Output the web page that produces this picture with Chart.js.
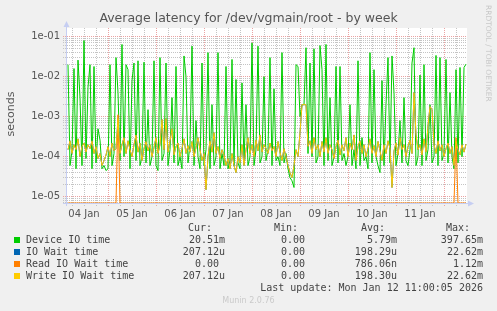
<!DOCTYPE html>
<html>
<head>
<meta charset="utf-8">
<script src="https://cdn.jsdelivr.net/npm/chart.js@4"></script>
<style>
  body { margin: 0; background: #f0f0f0; }
  #wrap { position: relative; width: 497px; height: 311px; background: #f0f0f0; overflow: hidden; }
  #stage { position: absolute; left: 0; top: 0; }
  .mono { position: absolute; white-space: pre; font-family: 'DejaVu Sans Mono', monospace; font-size: 10px; line-height: 12px; color: #444; }
  .sans { position: absolute; white-space: pre; font-family: 'DejaVu Sans', sans-serif; }
  .box { position: absolute; width: 6px; height: 6px; }
</style>
</head>
<body>
<div id="wrap">
  <canvas id="stage" width="497" height="311"></canvas>
</div>
<script>
// one point per hour, starting Jan 4 04:00
const dayLabels = ['04 Jan', '05 Jan', '06 Jan', '07 Jan', '08 Jan', '09 Jan', '10 Jan', '11 Jan'];
const yDecades = [1e-5, 1e-4, 1e-3, 1e-2, 1e-1];
const yTickLabels = ['1e-05', '1e-04', '1e-03', '1e-02', '1e-01'];

const deviceIO = [
  2e-2, 6e-5, 1.4e-4, 1.6e-2, 5e-5, 2.6e-2, 3e-3, 6e-5, 8e-2, 9e-5,
  5.5e-3, 2e-2, 5e-5, 1.8e-2, 7e-5, 5e-4, 2.6e-4, 5e-5, 6e-5, 4.5e-5,
  5e-5, 2e-2, 6e-5, 1.2e-4, 3e-2, 4e-3, 8e-5, 6.4e-2, 1e-4, 2e-2,
  1.5e-2, 5e-5, 8e-3, 2.2e-2, 8e-5, 2.5e-2, 6e-5, 1e-4, 2.3e-2, 7e-5,
  1.5e-3, 6e-5, 1e-4, 2.5e-2, 6e-5, 4.5e-5, 3e-2, 8e-5, 1.2e-4, 2.2e-2,
  6e-5, 1.5e-4, 3e-3, 7e-5, 1.8e-2, 6e-5, 1e-4, 5e-5, 3.3e-2, 1e-2,
  7e-5, 2e-4, 5.8e-2, 6e-5, 8e-4, 1e-4, 5e-5, 2.2e-2, 6e-5, 1.5e-4,
  4e-2, 5e-5, 2e-3, 6e-5, 1e-4, 4e-2, 5e-5, 1.2e-4, 6e-5, 1.8e-2,
  5e-5, 8e-5, 2.7e-2, 6e-5, 8.5e-3, 7e-5, 5e-5, 7e-3, 8e-5, 2e-3,
  6e-5, 1e-4, 7e-2, 6e-5, 1.5e-4, 5.8e-2, 7e-5, 1e-4, 1e-2, 8e-5,
  1.5e-4, 3e-2, 6e-5, 5e-3, 8e-5, 1e-4, 6e-5, 4e-2, 7e-5, 1.2e-4,
  5e-5, 3e-5, 2.5e-5, 1.7e-5, 2e-2, 1.8e-2, 1e-3, 2e-3, 2e-3, 5.3e-2,
  1.2e-4, 2.2e-2, 1e-4, 5e-2, 7e-5, 1e-4, 6e-2, 1.5e-2, 6e-5, 6.4e-2,
  8e-5, 3e-3, 6e-5, 1e-4, 1.8e-2, 7e-5, 1.8e-2, 8e-5, 1.2e-4, 6e-5,
  1e-4, 2e-3, 6e-5, 1.5e-4, 5e-5, 2.5e-2, 6e-5, 3e-4, 8e-5, 1e-4,
  5e-5, 4e-2, 7e-5, 1.5e-2, 1e-4, 6e-5, 4e-5, 8e-3, 6e-5, 2e-3,
  3e-2, 7e-5, 3.3e-2, 4e-3, 6e-5, 1.2e-4, 8e-4, 7e-5, 3e-3, 8e-5,
  6e-5, 1.5e-4, 2.2e-2, 5.3e-2, 6e-5, 1e-4, 1.1e-2, 6e-5, 2e-2, 8e-5,
  1.5e-4, 2e-3, 7e-5, 1e-4, 3.4e-2, 6e-5, 3e-2, 8e-5, 1.2e-4, 2.7e-2,
  7e-5, 4e-3, 1e-4, 5e-5, 1.5e-2, 7e-5, 1.7e-2, 1e-4, 1.7e-2, 2.05e-2
];

const ioWait = [
  1.5e-4, 2.5e-4, 1.2e-4, 2e-4, 1.5e-4, 2.8e-4, 1e-4, 1.8e-4, 2.2e-4, 1.3e-4,
  2e-4, 1.6e-4, 2.5e-4, 1.2e-4, 1.8e-4, 9e-5, 1.2e-4, 6e-5, 8e-5, 1.1e-4,
  1.8e-4, 1e-4, 2.2e-4, 1.4e-4, 1.6e-4, 9e-4, 1.2e-4, 2e-4, 3e-4, 1.2e-4,
  2.5e-4, 1.5e-4, 1e-4, 2e-4, 3.5e-4, 1.3e-4, 2.2e-4, 8e-5, 1.6e-4, 2.4e-4,
  1.4e-4, 2e-4, 1e-4, 1.7e-4, 3e-4, 1.2e-4, 2e-4, 8.5e-4, 1.5e-4, 9e-4,
  1.3e-4, 2.5e-4, 5e-4, 1.1e-4, 1.8e-4, 2.2e-4, 1e-4, 1.6e-4, 2.8e-4, 1.2e-4,
  1.9e-4, 1.3e-4, 2.4e-4, 1e-4, 1.7e-4, 3e-4, 1.5e-4, 8e-5, 1.2e-4, 1.5e-5,
  1e-4, 2.5e-4, 1.3e-4, 4e-4, 1.2e-4, 1.8e-4, 9e-5, 1.5e-4, 1.1e-4, 6e-5,
  9e-5, 5e-5, 1.2e-4, 6e-5, 4e-5, 1e-4, 7e-5, 2e-4, 6e-5, 1.5e-4,
  3e-4, 1.2e-4, 2e-4, 1e-4, 2.6e-4, 1.4e-4, 3.5e-4, 1.3e-4, 2e-4, 1.6e-4,
  1.2e-4, 2.2e-4, 1.4e-4, 1.8e-4, 1e-4, 2.4e-4, 1.3e-4, 8e-5, 1.6e-4, 1e-4,
  6e-5, 4e-5, 3e-5, 6e-5, 1.5e-4, 1e-4, 4e-4, 2e-3, 2e-3, 2e-3,
  1.8e-4, 2.5e-4, 1.2e-4, 3e-4, 1.5e-4, 2e-4, 1e-4, 2.4e-4, 1.3e-4, 3e-4,
  1.2e-4, 2e-4, 1.5e-4, 9e-5, 1.8e-4, 2.6e-4, 1.1e-4, 2e-4, 1.4e-4, 3e-4,
  1e-4, 2.2e-4, 1.5e-4, 3.5e-4, 8e-5, 1.8e-4, 2.5e-4, 1.2e-4, 2e-4, 1e-4,
  1.6e-4, 2.8e-4, 1.2e-4, 1.9e-4, 1e-4, 2.4e-4, 1.4e-4, 8e-5, 2e-4, 1.2e-4,
  2.5e-4, 1.6e-4, 1.7e-5, 1.4e-4, 2.2e-4, 1.1e-4, 3e-4, 1.5e-4, 2e-4, 1e-4,
  1.8e-4, 2.6e-4, 1.2e-4, 4e-3, 3.5e-4, 1.5e-4, 2e-4, 1.1e-4, 2.8e-4, 1.3e-4,
  6e-4, 1.8e-3, 1.5e-3, 2e-4, 1.2e-4, 2.5e-4, 1.4e-4, 2e-4, 1e-4, 1.6e-4,
  2.2e-4, 1.2e-4, 1.8e-4, 6e-5, 2.5e-4, 1.5e-4, 1.1e-4, 2e-4, 1.3e-4, 2.07e-4
];

const readWait = [
  0, 0, 0, 0, 0, 0, 0, 0, 0, 0, 0, 0, 0, 0, 0, 0, 0, 0, 0, 0,
  0, 0, 0, 0, 0, 1.12e-3, 0, 0, 0, 0, 0, 0, 0, 0, 0, 0, 0, 0, 0, 0,
  0, 0, 0, 0, 0, 0, 0, 0, 0, 0, 0, 0, 0, 0, 0, 0, 0, 0, 0, 0,
  0, 0, 0, 0, 0, 0, 0, 0, 0, 0, 0, 0, 0, 0, 0, 0, 0, 0, 0, 0,
  0, 0, 0, 0, 0, 0, 0, 0, 0, 0, 0, 0, 0, 0, 0, 0, 0, 0, 0, 0,
  0, 0, 0, 0, 0, 0, 0, 0, 0, 0, 0, 0, 0, 0, 0, 0, 0, 0, 0, 0,
  0, 0, 0, 0, 0, 0, 0, 0, 0, 0, 0, 0, 0, 0, 0, 0, 0, 0, 0, 0,
  0, 0, 0, 0, 0, 0, 0, 0, 0, 0, 0, 0, 0, 0, 0, 0, 0, 0, 0, 0,
  0, 0, 0, 0, 0, 0, 0, 0, 0, 0, 0, 0, 0, 0, 0, 0, 0, 0, 0, 0,
  0, 0, 0, 0, 0, 0, 0, 0, 0, 0, 0, 0, 0, 0, 3e-4, 0, 0, 0, 0, 0
];

const writeWait = [
  1.5e-4, 2.5e-4, 1.2e-4, 2e-4, 1.5e-4, 2.8e-4, 1e-4, 1.8e-4, 2.2e-4, 1.3e-4,
  2e-4, 1.6e-4, 2.5e-4, 1.2e-4, 1.8e-4, 9e-5, 1.2e-4, 6e-5, 8e-5, 1.1e-4,
  1.8e-4, 1e-4, 2.2e-4, 1.4e-4, 1.6e-4, 9e-4, 1.2e-4, 2e-4, 3e-4, 1.2e-4,
  2.5e-4, 1.5e-4, 1e-4, 2e-4, 3.5e-4, 1.3e-4, 2.2e-4, 8e-5, 1.6e-4, 2.4e-4,
  1.4e-4, 2e-4, 1e-4, 1.7e-4, 3e-4, 1.2e-4, 2e-4, 8.5e-4, 1.5e-4, 9e-4,
  1.3e-4, 2.5e-4, 5e-4, 1.1e-4, 1.8e-4, 2.2e-4, 1e-4, 1.6e-4, 2.8e-4, 1.2e-4,
  1.9e-4, 1.3e-4, 2.4e-4, 1e-4, 1.7e-4, 3e-4, 1.5e-4, 8e-5, 1.2e-4, 1.5e-5,
  1e-4, 2.5e-4, 1.3e-4, 4e-4, 1.2e-4, 1.8e-4, 9e-5, 1.5e-4, 1.1e-4, 6e-5,
  9e-5, 5e-5, 1.2e-4, 6e-5, 4e-5, 1e-4, 7e-5, 2e-4, 6e-5, 1.5e-4,
  3e-4, 1.2e-4, 2e-4, 1e-4, 2.6e-4, 1.4e-4, 3.5e-4, 1.3e-4, 2e-4, 1.6e-4,
  1.2e-4, 2.2e-4, 1.4e-4, 1.8e-4, 1e-4, 2.4e-4, 1.3e-4, 8e-5, 1.6e-4, 1e-4,
  6e-5, 4e-5, 3e-5, 6e-5, 1.5e-4, 1e-4, 4e-4, 2e-3, 2e-3, 2e-3,
  1.8e-4, 2.5e-4, 1.2e-4, 3e-4, 1.5e-4, 2e-4, 1e-4, 2.4e-4, 1.3e-4, 3e-4,
  1.2e-4, 2e-4, 1.5e-4, 9e-5, 1.8e-4, 2.6e-4, 1.1e-4, 2e-4, 1.4e-4, 3e-4,
  1e-4, 2.2e-4, 1.5e-4, 3.5e-4, 8e-5, 1.8e-4, 2.5e-4, 1.2e-4, 2e-4, 1e-4,
  1.6e-4, 2.8e-4, 1.2e-4, 1.9e-4, 1e-4, 2.4e-4, 1.4e-4, 8e-5, 2e-4, 1.2e-4,
  2.5e-4, 1.6e-4, 1.7e-5, 1.4e-4, 2.2e-4, 1.1e-4, 3e-4, 1.5e-4, 2e-4, 1e-4,
  1.8e-4, 2.6e-4, 1.2e-4, 4e-3, 3.5e-4, 1.5e-4, 2e-4, 1.1e-4, 2.8e-4, 1.3e-4,
  6e-4, 1.8e-3, 1.5e-3, 2e-4, 1.2e-4, 2.5e-4, 1.4e-4, 2e-4, 1e-4, 1.6e-4,
  2.2e-4, 1.2e-4, 1.8e-4, 6e-5, 2.5e-4, 1.5e-4, 1.1e-4, 2e-4, 1.3e-4, 2.07e-4
];

const seriesNames = ['Device IO time', 'IO Wait time', 'Read IO Wait time', 'Write IO Wait time'];
const statHeads = ['Cur:', 'Min:', 'Avg:', 'Max:'];
const statCur = ['20.51m', '207.12u', '0.00 ', '207.12u'];
const statMin = ['0.00 ', '0.00 ', '0.00 ', '0.00 '];
const statAvg = ['5.79m', '198.29u', '786.06n', '198.30u'];
const statMax = ['397.65m', '22.62m', '1.12m', '22.62m'];
const lastUpdate = 'Last update: Mon Jan 12 11:00:05 2026';

const colors = ['#00cc00', '#0066b3', '#ff8000', '#ffcc00'];

// x in hours from Jan 4 00:00
const hours = [];
for (let i = 0; i < deviceIO.length; i++) hours.push(4 + i);
const xGrid = [];
for (let h = 6; h <= 200; h += 6) xGrid.push(h);

const yMin = 6.96e-6, yMax = 0.165;
const yGrid = [];
for (let e = -6; e <= -1; e++) {
  for (let m = 1; m <= 9; m++) {
    const v = m * Math.pow(10, e);
    if (v >= yMin && v <= yMax) yGrid.push(v);
  }
}

const isDecade = v => yDecades.some(d => Math.abs(d - v) / d < 1e-6);
const gridGray = '#c4c4c4';
const gridRed = '#eba3a3';

const plotBg = {
  id: 'plotBg',
  beforeDraw(chart) {
    const { ctx, chartArea: a } = chart;
    ctx.save();
    ctx.fillStyle = '#ffffff';
    ctx.fillRect(a.left, a.top, a.right - a.left, a.bottom - a.top);
    ctx.restore();
  }
};

const rrdAxes = {
  id: 'rrdAxes',
  beforeDatasetsDraw(chart) {
    const { ctx, chartArea: a } = chart;
    const ax = a.left - 0.5, ay = a.bottom + 0.5;
    ctx.save();
    ctx.strokeStyle = '#c6cef2';
    ctx.fillStyle = '#c6cef2';
    ctx.lineWidth = 1;
    ctx.beginPath();
    ctx.moveTo(ax, a.bottom + 3);
    ctx.lineTo(ax, a.top - 3);
    ctx.moveTo(a.left - 4, ay);
    ctx.lineTo(a.right + 3, ay);
    ctx.stroke();
    ctx.beginPath();
    ctx.moveTo(ax, a.top - 7);
    ctx.lineTo(ax - 3, a.top - 1);
    ctx.lineTo(ax + 3, a.top - 1);
    ctx.closePath();
    ctx.fill();
    ctx.beginPath();
    ctx.moveTo(a.right + 7, ay);
    ctx.lineTo(a.right + 1, ay - 3);
    ctx.lineTo(a.right + 1, ay + 3);
    ctx.closePath();
    ctx.fill();
    ctx.restore();
  }
};

const toPoints = arr => arr.map((v, i) => ({ x: hours[i], y: v }));

new Chart(document.getElementById('stage'), {
  type: 'line',
  data: {
    datasets: [
      { label: seriesNames[0], data: toPoints(deviceIO), borderColor: colors[0], order: 4 },
      { label: seriesNames[1], data: toPoints(ioWait), borderColor: colors[1], order: 3 },
      { label: seriesNames[2], data: toPoints(readWait), borderColor: colors[2], order: 2 },
      { label: seriesNames[3], data: toPoints(writeWait), borderColor: colors[3], order: 1 }
    ]
  },
  options: {
    responsive: false,
    animation: false,
    parsing: false,
    layout: { padding: { left: 0, top: 28, right: 30, bottom: 88 } },
    plugins: { legend: { display: false }, tooltip: { enabled: false }, title: { display: false } },
    elements: { point: { radius: 0 }, line: { borderWidth: 1, tension: 0, fill: false } },
    scales: {
      x: {
        type: 'linear', min: 3.5, max: 203.5, bounds: 'data',
        afterFit: s => { s.height = 20; },
        afterBuildTicks: s => { s.ticks = xGrid.map(v => ({ value: v })); },
        grid: {
          color: c => (c.tick && c.tick.value % 24 === 0) ? gridRed : gridGray,
          tickColor: c => (c.tick && c.tick.value % 24 === 0) ? gridRed : gridGray,
          lineWidth: 1, drawTicks: true, tickLength: 4, tickBorderDash: [1, 1]
        },
        border: { display: false, dash: [1, 1] },
        ticks: {
          autoSkip: false, maxRotation: 0, padding: 1, color: '#555',
          font: { family: 'DejaVu Sans', size: 10 },
          callback: v => (v % 24 === 12) ? dayLabels[(v - 12) / 24] : ''
        }
      },
      y: {
        type: 'logarithmic', min: yMin, max: yMax, bounds: 'data',
        afterFit: s => { s.width = 67; },
        afterBuildTicks: s => { s.ticks = yGrid.map(v => ({ value: v })); },
        grid: {
          color: c => (c.tick && isDecade(c.tick.value)) ? gridRed : gridGray,
          tickColor: c => (c.tick && isDecade(c.tick.value)) ? gridRed : gridGray,
          lineWidth: 1, drawTicks: true, tickLength: 4, tickBorderDash: [1, 1]
        },
        border: { display: false, dash: [1, 1] },
        ticks: {
          autoSkip: false, padding: 3, color: '#555',
          font: { family: 'DejaVu Sans', size: 10 },
          callback: v => {
            const k = yDecades.findIndex(d => Math.abs(d - v) / d < 1e-6);
            return k >= 0 ? yTickLabels[k] : '';
          }
        }
      }
    }
  },
  plugins: [plotBg, rrdAxes]
});

// texts around the plot
const wrap = document.getElementById('wrap');
function addText(text, cls, css) {
  const d = document.createElement('div');
  d.className = cls;
  d.textContent = text;
  Object.assign(d.style, css);
  wrap.appendChild(d);
  return d;
}

addText('Average latency for /dev/vgmain/root - by week', 'sans',
  { left: '0px', width: '497px', top: '11.5px', textAlign: 'center', fontSize: '12.5px', lineHeight: '12px', color: '#555' });
addText('seconds', 'sans',
  { left: '-39px', top: '108px', width: '100px', textAlign: 'center', fontSize: '11px', lineHeight: '12px', color: '#555', transform: 'rotate(-90deg)' });
addText('RRDTOOL / TOBI OETIKER', 'sans',
  { left: '492px', top: '5px', fontSize: '7.5px', lineHeight: '8px', color: '#c8c8c8', transformOrigin: '0 0', transform: 'rotate(90deg)' });

const headRight = [212, 298, 385, 470];
const valRight = [225, 311, 397, 483];
const headTop = 221.5;
statHeads.forEach((h, k) => addText(h, 'mono', { right: (497 - headRight[k]) + 'px', top: headTop + 'px' }));
const cols = [statCur, statMin, statAvg, statMax];
seriesNames.forEach((name, r) => {
  const top = headTop + 12 * (r + 1);
  const b = document.createElement('div');
  b.className = 'box';
  Object.assign(b.style, { left: '14px', top: (top + 3.5) + 'px', background: colors[r] });
  wrap.appendChild(b);
  addText(name, 'mono', { left: '26px', top: top + 'px' });
  cols.forEach((col, k) => addText(col[r], 'mono', { right: (497 - valRight[k]) + 'px', top: top + 'px' }));
});
addText(lastUpdate, 'mono', { right: (497 - 483) + 'px', top: (headTop + 60) + 'px' });
addText('Munin 2.0.76', 'sans',
  { left: '0px', width: '497px', top: '296.5px', textAlign: 'center', fontSize: '8px', lineHeight: '8px', color: '#cacaca' });
</script>
</body>
</html>
